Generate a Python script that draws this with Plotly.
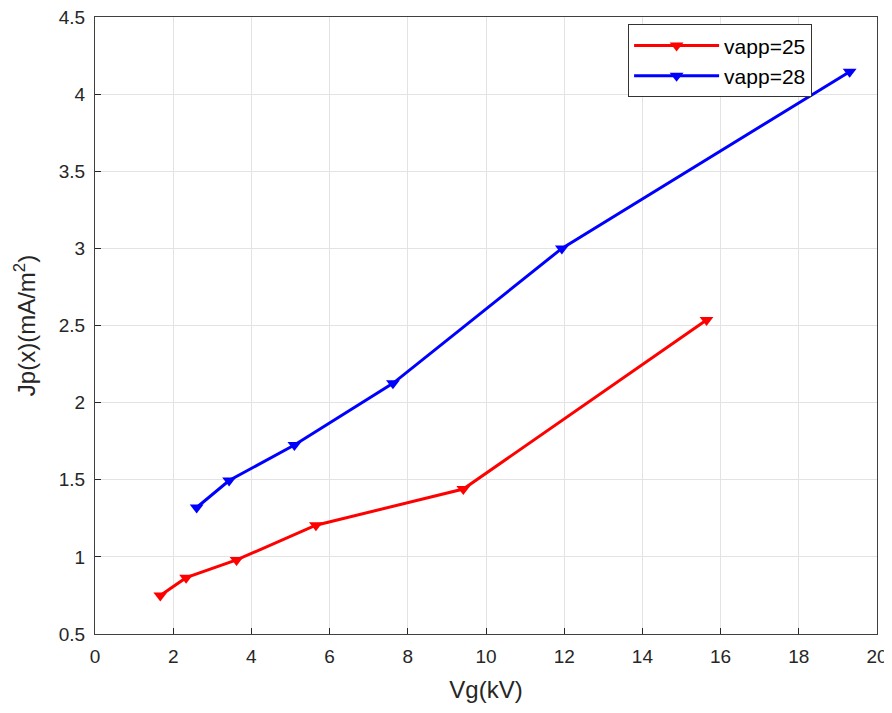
import plotly.graph_objects as go

vg_25 = [1.67, 2.33, 3.62, 5.65, 9.42, 15.64]
jp_25 = [0.75, 0.865, 0.98, 1.205, 1.44, 2.535]
vg_28 = [2.6, 3.43, 5.1, 7.62, 11.94, 19.3]
jp_28 = [1.32, 1.495, 1.725, 2.125, 3.0, 4.145]
x_ticks = list(range(0, 21, 2))
y_ticks = [0.5, 1, 1.5, 2, 2.5, 3, 3.5, 4, 4.5]
y_labels = ["0.5", "1", "1.5", "2", "2.5", "3", "3.5", "4", "4.5"]

fig = go.Figure()
fig.add_trace(go.Scatter(x=vg_25, y=jp_25, mode="lines+markers", name="vapp=25",
                         line=dict(color="#ff0000", width=3),
                         marker=dict(symbol="triangle-down", size=12, color="#ff0000")))
fig.add_trace(go.Scatter(x=vg_28, y=jp_28, mode="lines+markers", name="vapp=28",
                         line=dict(color="#0000ff", width=3),
                         marker=dict(symbol="triangle-down", size=12, color="#0000ff")))

axis_common = dict(showgrid=True, gridcolor="#e3e3e3", gridwidth=1,
                   showline=True, linecolor="#404040", linewidth=1, mirror=True,
                   ticks="inside", ticklen=6, tickcolor="#262626",
                   tickfont=dict(family="Liberation Sans, Arial", size=19, color="#262626"),
                   zeroline=False, automargin=False, ticklabeloverflow="allow",
                   ticklabelstandoff=5)

# page body has an 8px margin, so the figure is sized 8px smaller
fig.update_layout(
    width=884, height=705,
    paper_bgcolor="white", plot_bgcolor="white",
    margin=dict(l=87, r=15, t=9, b=79),
    font=dict(family="Liberation Sans, Arial", color="#262626"),
    xaxis=dict(range=[0, 20], tickvals=x_ticks,
               title=dict(text="Vg(kV)", font=dict(size=24)), **axis_common),
    yaxis=dict(range=[0.5, 4.5], tickvals=y_ticks, ticktext=y_labels,
               title=dict(text="Jp(x)(mA/m<sup>2</sup>)", font=dict(size=24), standoff=16), **axis_common),
    legend=dict(x=0.917, y=0.988, xanchor="right", yanchor="top",
                bgcolor="white", bordercolor="#333333", borderwidth=1,
                font=dict(size=21, color="#000000"), itemwidth=85,
                tracegroupgap=0),
    showlegend=True,
)

fig.write_html("out.html")
